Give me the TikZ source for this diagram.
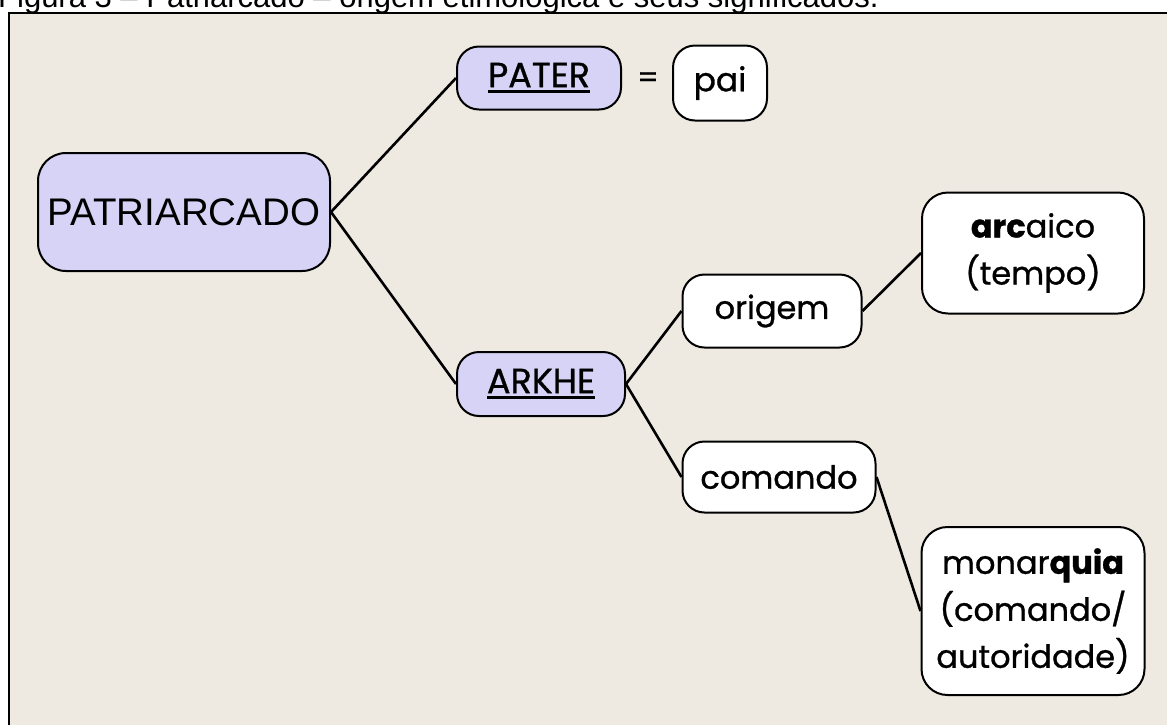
\documentclass[tikz,border=0pt]{standalone}
\usepackage{fontspec}
\setmainfont{Poppins}
\newfontfamily\medium[FakeBold=0.9]{Poppins}
\newfontfamily\arialfont{Liberation Sans}

\definecolor{paper}{RGB}{238,233,225}
\definecolor{lavender}{RGB}{215,211,246}

% underline drawn as a rule below the baseline
\newcommand\ulword[1]{\setbox0\hbox{#1}\rlap{\raisebox{-6pt}{\rule{\wd0}{3pt}}}\box0}

\tikzset{
  box/.style={draw=black, line width=2pt, rounded corners=#1, align=center,
    inner sep=0pt, fill=white, font=\medium\fontsize{32}{47}\selectfont},
  box/.default=22pt,
  lavbox/.style={box=#1, fill=lavender},
  lavbox/.default=22pt,
  conn/.style={draw=black, line width=2.6pt},
}

\begin{document}
\begin{tikzpicture}[x=1pt,y=-1pt]
  \useasboundingbox (0,0) rectangle (1167,724);
  \fill[white] (0,0) rectangle (1167,724);
  % paper panel with frame
  \draw[line width=2pt, fill=paper] (9,13) rectangle (1185,745);

  % caption above the panel
  \node[anchor=base west, inner sep=0pt, font=\arialfont\fontsize{31}{36}\selectfont]
    (caption) at (-2,7) {Figura 3 – Patriarcado – origem etimológica e seus significados.};

  % nodes
  \node[lavbox=28pt, minimum width=292pt, minimum height=118pt,
        font=\arialfont\fontsize{38.5}{40}\selectfont] (patri) at (184,212) {PATRIARCADO};
  \node[lavbox, minimum width=164pt, minimum height=63pt,
        font=\medium\fontsize{35}{40}\selectfont] (pater) at (539,78) {\ulword{PATER}};
  \node[inner sep=0pt, font=\medium\fontsize{30}{30}\selectfont] (eq) at (648,80) {=};
  \node[box, minimum width=94pt, minimum height=75pt, font=\medium\fontsize{33}{40}\selectfont]
    (pai) at (720,83) {pai};
  \node[lavbox, minimum width=168pt, minimum height=64pt,
        font=\medium\fontsize{35}{40}\selectfont] (arkhe) at (541,384) {\ulword{ARKHE}};
  \node[box, minimum width=179pt, minimum height=73pt] (origem) at (772,311) {origem};
  \node[box, minimum width=193pt, minimum height=71pt] (comando) at (779,477) {comando};
  \node[box=26pt, minimum width=222pt, minimum height=121pt] (arcaico) at (1033,253)
    {\textbf{arc}aico\\(tempo)};
  \node[box=26pt, minimum width=223pt, minimum height=168pt] (monarquia) at (1033,611)
    {monar\textbf{quia}\\(comando/\\autoridade)};

  % connectors
  \draw[conn] (patri.east) -- (pater.west);
  \draw[conn] (patri.east) -- (arkhe.west);
  \draw[conn] (arkhe.east) -- (origem.west);
  \draw[conn] (arkhe.east) -- (comando.west);
  \draw[conn] (origem.east) -- (arcaico.west);
  \draw[conn] (comando.east) -- (monarquia.west);
\end{tikzpicture}
\end{document}
